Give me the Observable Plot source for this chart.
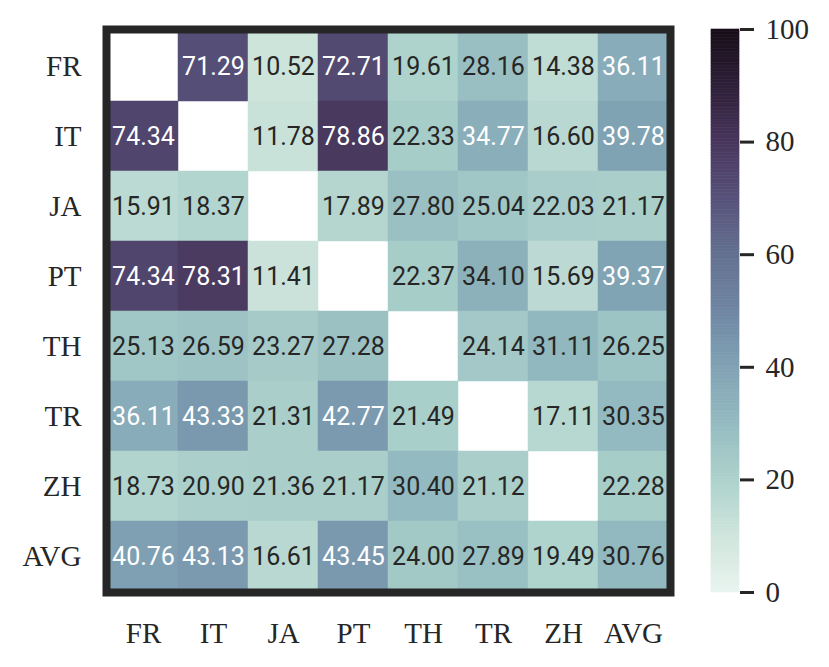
<!DOCTYPE html>
<html>
<head>
<meta charset="utf-8">
<script src="https://cdn.jsdelivr.net/npm/d3@7"></script>
<script src="https://cdn.jsdelivr.net/npm/@observablehq/plot@0.6"></script>
<style>
  html, body { margin: 0; padding: 0; background: #fff; }
  #wrap { position: relative; width: 829px; height: 667px; overflow: hidden; }
  #main, #bar { position: absolute; top: 0; }
  #main { left: 0; }
  #bar { left: 700px; }
</style>
</head>
<body>
<div id="wrap"><div id="main"></div><div id="bar"></div></div>
<script>
const rowLabels = ["FR", "IT", "JA", "PT", "TH", "TR", "ZH", "AVG"];
const colLabels = ["FR", "IT", "JA", "PT", "TH", "TR", "ZH", "AVG"];
const rowFR  = [null, 71.29, 10.52, 72.71, 19.61, 28.16, 14.38, 36.11];
const rowIT  = [74.34, null, 11.78, 78.86, 22.33, 34.77, 16.60, 39.78];
const rowJA  = [15.91, 18.37, null, 17.89, 27.80, 25.04, 22.03, 21.17];
const rowPT  = [74.34, 78.31, 11.41, null, 22.37, 34.10, 15.69, 39.37];
const rowTH  = [25.13, 26.59, 23.27, 27.28, null, 24.14, 31.11, 26.25];
const rowTR  = [36.11, 43.33, 21.31, 42.77, 21.49, null, 17.11, 30.35];
const rowZH  = [18.73, 20.90, 21.36, 21.17, 30.40, 21.12, null, 22.28];
const rowAVG = [40.76, 43.13, 16.61, 43.45, 24.00, 27.89, 19.49, 30.76];
const colorbarTicks = [0, 20, 40, 60, 80, 100];

const matrix = [rowFR, rowIT, rowJA, rowPT, rowTH, rowTR, rowZH, rowAVG];
const cells = [];
matrix.forEach((vals, i) => vals.forEach((v, j) => {
  if (v != null) cells.push({row: rowLabels[i], col: colLabels[j], value: v});
}));

const colorOpts = {
  type: "linear",
  domain: [0, 10, 20, 30, 40, 50, 60, 70, 80, 90, 100],
  range: ["#e9f4ef", "#cfe5dc", "#add2cc", "#94bbc0", "#80a2b4", "#6f86a3",
          "#637090", "#57517a", "#48365c", "#2e1f38", "#170d18"],
  interpolate: "rgb"
};
const serif = "'Liberation Serif', 'DejaVu Serif', serif";
const fmt = d3.format(".2f");
const ink = "#262626";

const main = Plot.plot({
  width: 700, height: 667,
  marginLeft: 106, marginRight: 30, marginTop: 29, marginBottom: 75,
  style: {fontFamily: serif, fontSize: "29px", background: "white"},
  x: {domain: colLabels, padding: 0, label: null},
  y: {domain: rowLabels, padding: 0, label: null},
  color: colorOpts,
  marks: [
    Plot.cell(cells, {x: "col", y: "row", fill: "value", stroke: "value", strokeWidth: 0.5}),
    Plot.text(cells.filter(d => d.value > 34.5), {x: "col", y: "row", text: d => fmt(d.value),
      fill: "white", fontSize: 25, fontFamily: "Roboto"}),
    Plot.text(cells.filter(d => d.value <= 34.5), {x: "col", y: "row", text: d => fmt(d.value),
      fill: ink, fontSize: 25, fontFamily: "Roboto"}),
    Plot.frame({stroke: ink, strokeWidth: 8}),
    Plot.axisX({anchor: "bottom", tickSize: 0, tickPadding: 30, fontSize: 29, fontFamily: serif, color: ink, label: null}),
    Plot.axisY({anchor: "left", tickSize: 0, tickPadding: 25, fontSize: 29, fontFamily: serif, color: ink, label: null})
  ]
});
document.getElementById("main").appendChild(main);

const step = 0.5;
const steps = d3.range(0, 100, step);
const bar = Plot.plot({
  width: 129, height: 667,
  marginLeft: 11, marginRight: 90, marginTop: 29, marginBottom: 75,
  style: {fontFamily: serif, fontSize: "29px", background: "white"},
  x: {domain: [0, 1], axis: null},
  y: {domain: [0, 100], label: null},
  color: colorOpts,
  marks: [
    Plot.rect(steps, {x1: () => 0, x2: () => 1, y1: d => d, y2: d => d + step,
      fill: d => d + step / 2, stroke: d => d + step / 2, strokeWidth: 0.6}),
    Plot.axisY({anchor: "right", ticks: colorbarTicks, tickSize: 14, tickPadding: 12,
      strokeWidth: 3, fontSize: 29, fontFamily: serif, color: ink, label: null})
  ]
});
document.getElementById("bar").appendChild(bar);
</script>
</body>
</html>
